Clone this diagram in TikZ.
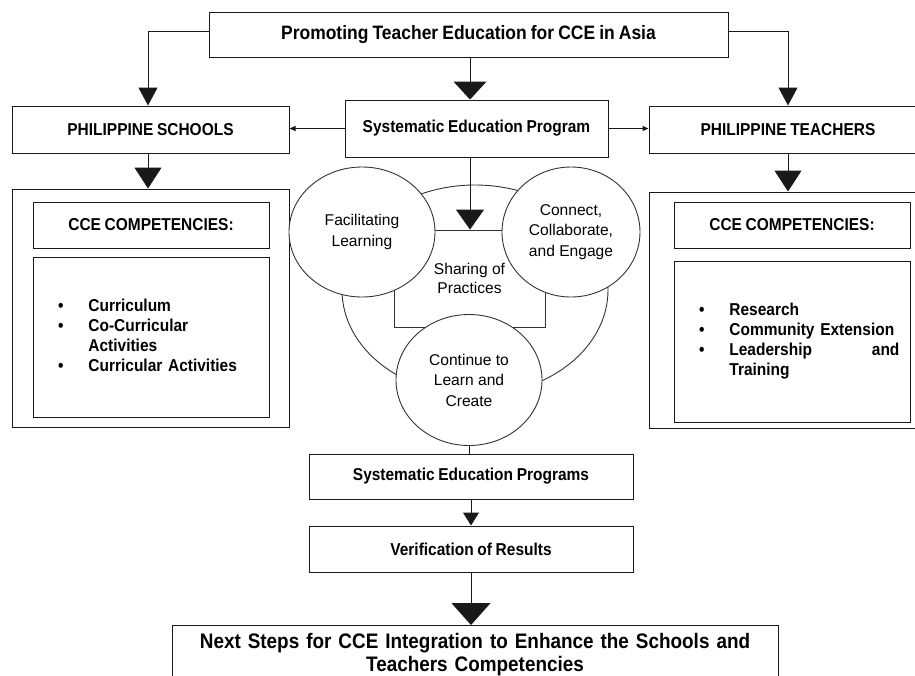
\documentclass[tikz,border=0pt]{standalone}
\usepackage{fontspec}
\setmainfont{Liberation Sans}
\newfontfamily\narrowsans{Liberation Sans}[FakeStretch=0.9,WordSpace=0.85]
\usetikzlibrary{arrows.meta,shapes.geometric,calc}
\tikzset{
  box/.style={draw=black!90, line width=1pt, inner sep=0pt, align=center,
    font=\narrowsans\fontsize{17.2}{18}\selectfont\bfseries},
  circ/.style={ellipse, draw=black!80, fill=white, line width=0.9pt, inner sep=0pt, align=center,
    font=\fontsize{15.6}{20.5}\selectfont},
  listbox/.style={box, text width=186pt, inner xsep=25pt, align=left,
    font=\narrowsans\fontsize{17.2}{20}\selectfont\bfseries},
  conn/.style={line width=1pt, draw=black!90},
}
\begin{document}
\begin{tikzpicture}[x=1pt,y=-1pt]
\fill[white] (0,0) rectangle (915,675);
\useasboundingbox (0,0) rectangle (915,675);

% top row
\node[box, minimum width=519pt, minimum height=45pt, font=\narrowsans\fontsize{19.4}{20}\selectfont\bfseries] (top) at (468.5,34.5) {Promoting Teacher Education for CCE in Asia};
\node[box, minimum width=277pt, minimum height=47pt] (ps) at (150.5,129.5) {PHILIPPINE SCHOOLS};
\node[box, minimum width=263pt, minimum height=57pt] (sep) at (476.5,128.5) {Systematic Education Program};
\node[box, minimum width=278pt, minimum height=47pt] (pt) at (788,129.5) {PHILIPPINE TEACHERS};

% left competencies
\node[box, minimum width=277pt, minimum height=238pt] (lout) at (150.5,308) {};
\node[box, minimum width=236pt, minimum height=46pt] (lhead) at (151,225) {CCE COMPETENCIES:};
\node[listbox, minimum height=160pt] (llist) at (151,337) {%
\begin{tabular}{@{}l@{\hspace{25pt}}l@{}}
\textbullet & Curriculum\\
\textbullet & Co-Curricular\\
 & Activities\\
\textbullet & Curricular Activities
\end{tabular}};

% right competencies
\node[box, minimum width=278pt, minimum height=236pt] (rout) at (788,310) {};
\node[box, minimum width=236pt, minimum height=46pt] (rhead) at (792,225) {CCE COMPETENCIES:};
\node[listbox, minimum height=161pt] (rlist) at (792,341.5) {%
\begin{tabular}{@{}l@{\hspace{25pt}}l@{}}
\textbullet & Research\\
\textbullet & Community Extension\\
\textbullet & \makebox[170pt][l]{Leadership\hfill and}\\
 & Training
\end{tabular}};

% center cluster
\node[ellipse, draw=black!80, line width=0.9pt, minimum width=266pt, minimum height=210pt, inner sep=0pt] (big) at (475,290) {};
\node[draw=black!80, line width=0.9pt, minimum width=151pt, minimum height=97pt, inner sep=0pt, align=center,
  font=\fontsize{15.6}{19}\selectfont] (share) at (469.5,278.5) {Sharing of\\Practices};
\node[circ, minimum width=146pt, minimum height=130pt] (fac) at (362,232) {Facilitating\\Learning};
\node[circ, minimum width=138pt, minimum height=130pt] (con) at (571,232) {Connect,\\Collaborate,\\and Engage};
\node[circ, minimum width=146pt, minimum height=131pt] (cont) at (469,380) {Continue to\\Learn and\\Create};

% lower column
\node[box, minimum width=324pt, minimum height=45pt] (sep2) at (471,476.5) {Systematic Education Programs};
\node[box, minimum width=324pt, minimum height=46pt] (ver) at (471,549) {Verification of Results};
\node[box, anchor=north, minimum width=606pt, text width=590pt, inner xsep=8pt, inner ysep=8pt,
  font=\narrowsans\fontsize{21}{23}\selectfont\bfseries] (next) at (475,625)
  {Next Steps for CCE Integration to Enhance the Schools and\\Teachers Competencies};

% helper coordinates
\coordinate (tl) at (148,31);
\coordinate (tr) at (788,31);
\coordinate (cx) at (470,0);
\coordinate (bx) at (471,0);

% connectors
\draw[conn, -{Triangle[width=19pt,length=18pt]}] (tl -| top.west) -- (tl) -- (tl |- ps.north);
\draw[conn, -{Triangle[width=19pt,length=18pt]}] (tr -| top.east) -- (tr) -- (tr |- pt.north);
\draw[conn, -{Triangle[width=33pt,length=18pt]}] (cx |- top.south) -- (cx |- sep.north);
\draw[conn, -{Triangle[width=5pt,length=6pt]}] (sep.west) -- (sep.west -| ps.east);
\draw[conn, -{Triangle[width=5pt,length=6pt]}] (sep.east) -- (sep.east -| pt.west);
\draw[conn, -{Triangle[width=27pt,length=21pt]}] (tl |- ps.south) -- (tl |- lout.north);
\draw[conn, -{Triangle[width=27pt,length=21pt]}] (tr |- pt.south) -- (tr |- rout.north);
\draw[conn, -{Triangle[width=28pt,length=20pt]}] (cx |- sep.south) -- (cx |- share.north);
\draw[conn] (cont.south) -- (cont.south |- sep2.north);
\draw[conn, -{Triangle[width=16pt,length=13pt]}] (bx |- sep2.south) -- (bx |- ver.north);
\draw[conn, -{Triangle[width=39pt,length=22pt]}] (bx |- ver.south) -- (bx |- next.north);
\end{tikzpicture}
\end{document}
